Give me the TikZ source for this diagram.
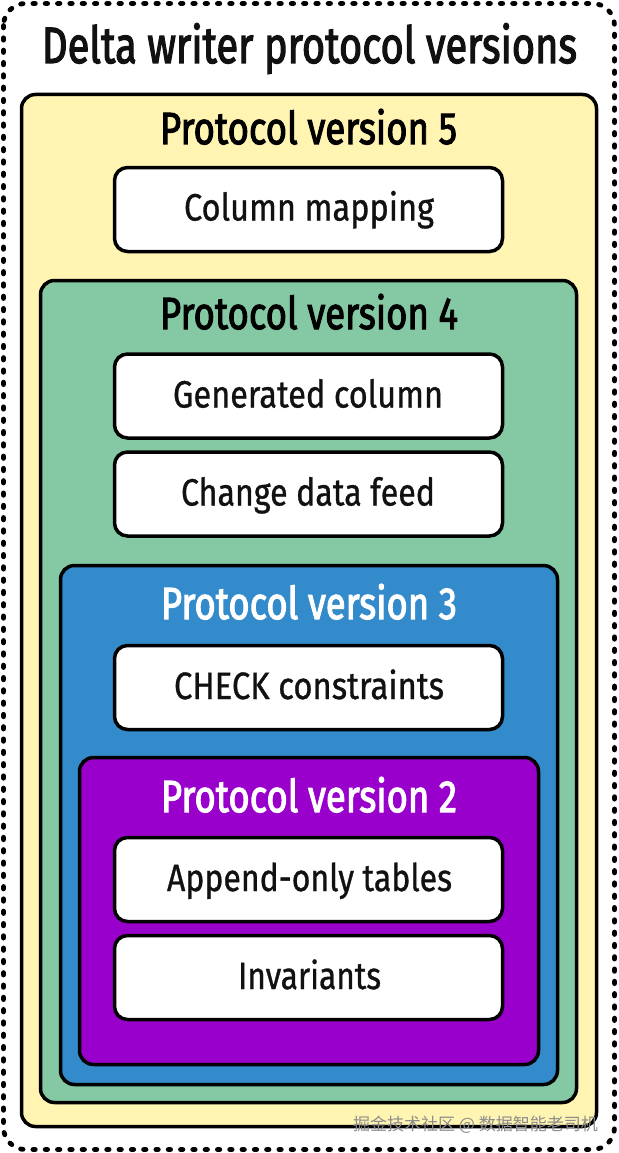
\documentclass[tikz,border=0pt]{standalone}
\usepackage{fontspec}
\usepackage{graphicx}
\setmainfont{Fira Sans}
\newfontfamily\headfont{Fira Sans}[FakeBold=2.6]
\newfontfamily\bodyfont{Fira Sans}[FakeBold=0.9]
\newfontfamily\cjkfont{Noto Sans CJK SC}
\definecolor{v5col}{HTML}{FFF4B2}
\definecolor{v4col}{HTML}{84C9A3}
\definecolor{v3col}{HTML}{338BCB}
\definecolor{v2col}{HTML}{9A00CC}
\definecolor{inkcol}{HTML}{111111}
\newcommand\fitw[2]{\resizebox{#1pt}{\height}{#2}}
\tikzset{
  container/.style={draw=black, line width=3.5pt, rounded corners=14pt, inner sep=0pt, outer sep=0pt},
  feature/.style={draw=black, fill=white, line width=3.5pt, rounded corners=13pt, minimum width=388pt, minimum height=84pt, inner sep=0pt},
  fttext/.style={anchor=base, inner sep=0pt, text=inkcol, font=\bodyfont\fontsize{38}{38}\selectfont},
  vtitle/.style={anchor=base, inner sep=0pt, font=\headfont\fontsize{45}{45}\selectfont},
}
\begin{document}
\begin{tikzpicture}[x=1pt, y=-1pt]
\useasboundingbox (0,0) rectangle (618,1153);
\fill[white] (0,0) rectangle (618,1153);
% outer dotted frame
\draw[line width=4.8pt, line cap=round, dash pattern=on 2.4pt off 9.9pt, rounded corners=22pt] (3.5,3.5) rectangle (614.5,1149.5);
\node[anchor=base, inner sep=0pt, text=inkcol, font=\headfont\fontsize{51}{51}\selectfont] (title) at (309.5,63) {\fitw{535}{Delta writer protocol versions}};

% containers
\node[container, fill=v5col, minimum width=575pt, minimum height=1032pt] (v5) at (309,610.5) {};
\node[vtitle, text=black] (t5) at (308.5,144) {\fitw{297}{Protocol version 5}};
\node[feature] (colmap) at (308.5,209.5) {};
\node[fttext] (colmapt) at (309,220.5) {\fitw{250}{Column mapping}};

\node[container, fill=v4col, minimum width=536pt, minimum height=822pt] (v4) at (308.5,691.5) {};
\node[vtitle, text=black] (t4) at (309,329) {\fitw{298}{Protocol version 4}};
\node[feature] (gencol) at (308.5,396) {};
\node[fttext] (gencolt) at (308,407.5) {\fitw{270}{Generated column}};
\node[feature] (cdf) at (308.5,494) {};
\node[fttext] (cdft) at (308,505.5) {\fitw{254}{Change data feed}};

\node[container, fill=v3col, minimum width=497pt, minimum height=519pt] (v3) at (309,825) {};
\node[vtitle, text=white] (t3) at (309,619) {\fitw{296}{Protocol version 3}};
\node[feature] (check) at (308.5,687.5) {};
\node[fttext] (checkt) at (309,699) {\fitw{270}{CHECK constraints}};

\node[container, fill=v2col, minimum width=459pt, minimum height=307pt] (v2) at (309,911) {};
\node[vtitle, text=white] (t2) at (309,812) {\fitw{296}{Protocol version 2}};
\node[feature] (append) at (308.5,879.5) {};
\node[fttext] (appendt) at (309.5,891) {\fitw{285}{Append-only tables}};
\node[feature] (inv) at (308.5,977.5) {};
\node[fttext] (invt) at (309.5,989) {\fitw{143}{Invariants}};

% watermark
\node[anchor=base east, inner sep=0pt, text=black!45, font=\cjkfont\fontsize{17}{17}\selectfont] (wm) at (598,1130) {掘金技术社区 @ 数据智能老司机};
\end{tikzpicture}
\end{document}
